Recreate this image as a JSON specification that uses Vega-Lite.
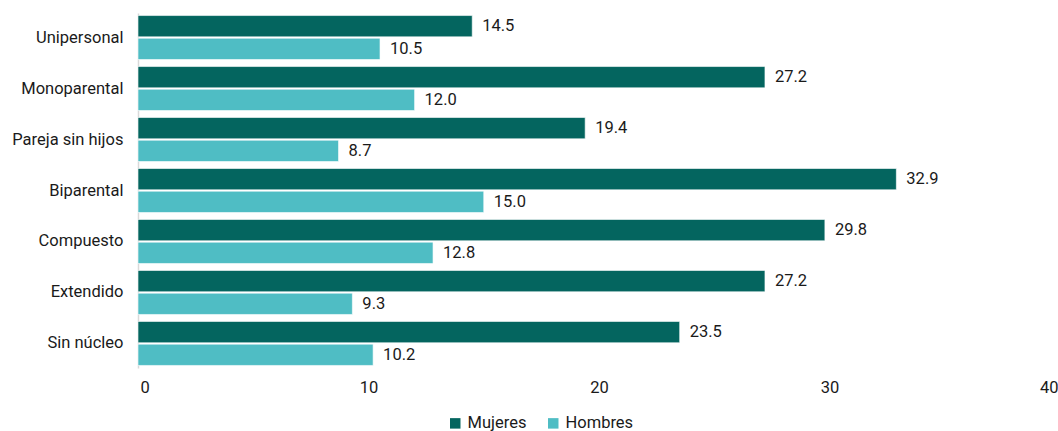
{
  "$schema": "https://vega.github.io/schema/vega-lite/v6.json",
  "autosize": {"type": "none"},
  "width": 922,
  "height": 355,
  "padding": {"left": 138, "top": 13, "right": 0, "bottom": 63},
  "background": "white",
  "config": {
    "view": {"stroke": null},
    "font": "Roboto",
    "text": {"font": "Roboto"}
  },
  "data": {
    "values": [
      {"tipo": "Unipersonal", "sexo": "Mujeres", "valor": 14.5},
      {"tipo": "Unipersonal", "sexo": "Hombres", "valor": 10.5},
      {"tipo": "Monoparental", "sexo": "Mujeres", "valor": 27.2},
      {"tipo": "Monoparental", "sexo": "Hombres", "valor": 12.0},
      {"tipo": "Pareja sin hijos", "sexo": "Mujeres", "valor": 19.4},
      {"tipo": "Pareja sin hijos", "sexo": "Hombres", "valor": 8.7},
      {"tipo": "Biparental", "sexo": "Mujeres", "valor": 32.9},
      {"tipo": "Biparental", "sexo": "Hombres", "valor": 15.0},
      {"tipo": "Compuesto", "sexo": "Mujeres", "valor": 29.8},
      {"tipo": "Compuesto", "sexo": "Hombres", "valor": 12.8},
      {"tipo": "Extendido", "sexo": "Mujeres", "valor": 27.2},
      {"tipo": "Extendido", "sexo": "Hombres", "valor": 9.3},
      {"tipo": "Sin núcleo", "sexo": "Mujeres", "valor": 23.5},
      {"tipo": "Sin núcleo", "sexo": "Hombres", "valor": 10.2}
    ]
  },
  "encoding": {
    "y": {
      "field": "tipo",
      "type": "nominal",
      "sort": ["Unipersonal", "Monoparental", "Pareja sin hijos", "Biparental", "Compuesto", "Extendido", "Sin núcleo"],
      "scale": {"paddingInner": 0.137, "paddingOuter": 0.05},
      "axis": {
        "title": null,
        "ticks": false,
        "domainColor": "#d9d9d9",
        "domainWidth": 1.5,
        "labelFontSize": 16.5,
        "labelColor": "#1a1a1a",
        "labelPadding": 15,
        "labelFont": "Roboto"
      }
    },
    "yOffset": {
      "field": "sexo",
      "type": "nominal",
      "sort": ["Mujeres", "Hombres"],
      "scale": {"paddingInner": 0.06}
    },
    "x": {
      "field": "valor",
      "type": "quantitative",
      "scale": {"domain": [0, 40], "nice": false},
      "axis": {
        "title": null,
        "values": [0, 10, 20, 30, 40],
        "grid": false,
        "domain": false,
        "ticks": false,
        "labelFlush": true,
        "labelFlushOffset": -2,
        "labelFontSize": 16.5,
        "labelColor": "#1a1a1a",
        "labelPadding": 11,
        "labelFont": "Roboto"
      }
    }
  },
  "layer": [
    {
      "mark": {"type": "bar", "stroke": "white", "strokeWidth": 0.6},
      "encoding": {
        "color": {
          "field": "sexo",
          "type": "nominal",
          "sort": ["Mujeres", "Hombres"],
          "scale": {"domain": ["Mujeres", "Hombres"], "range": ["#04655f", "#4fbdc4"]},
          "legend": {
            "title": null,
            "orient": "none",
            "direction": "horizontal",
            "legendX": 309,
            "legendY": 402,
            "symbolType": "square",
            "symbolSize": 110,
            "symbolStrokeWidth": 0,
            "labelFontSize": 16.5,
            "labelColor": "#1a1a1a",
            "labelFont": "Roboto",
            "labelOffset": 4,
            "columnPadding": 18
          }
        }
      }
    },
    {
      "mark": {"type": "text", "align": "left", "baseline": "middle", "dx": 10, "fontSize": 16.5, "color": "#1a1a1a", "font": "Roboto"},
      "encoding": {
        "text": {"field": "valor", "type": "quantitative", "format": ".1f"}
      }
    }
  ]
}
